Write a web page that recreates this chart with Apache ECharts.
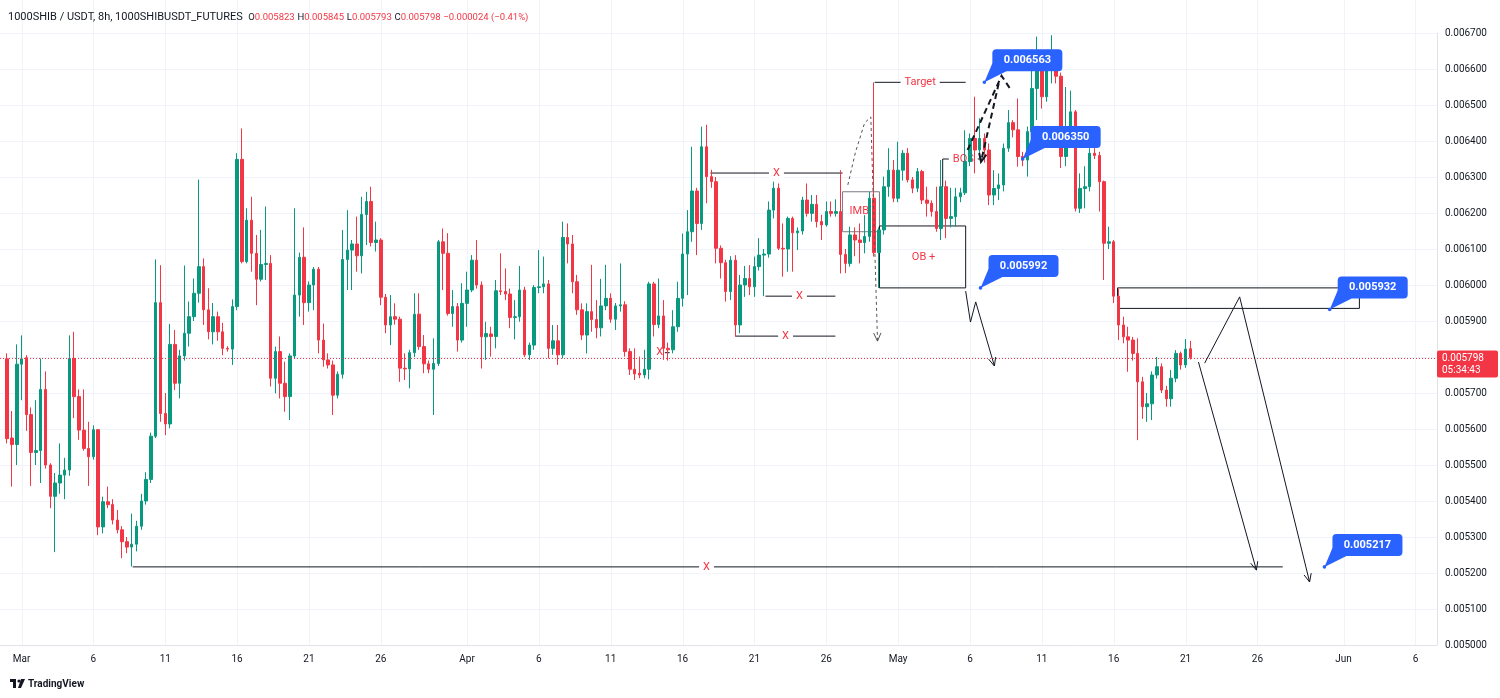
<!DOCTYPE html>
<html>
<head>
<meta charset="utf-8">
<title>1000SHIB / USDT, 8h</title>
<script src="https://cdn.jsdelivr.net/npm/echarts@6/dist/echarts.min.js"></script>
<style>
  html, body { margin: 0; padding: 0; background: #fff; }
  #chart { width: 1500px; height: 698px; }
</style>
</head>
<body>
<div id="chart"></div>
<script>
// prices below are in units of 0.000001 (1e-6)
var SCALE = 1e6;
var LEAD = 1;      // empty 8h slots before the first candle
var SLOTS = 300;   // 8h slots on the time axis (future included)
var startTime = Date.UTC(2025, 1, 27, 16);

var opens = [
  5795,5575,5557,5780,5798,5640,5535,5540,5710,5500, 5413,5450,5472,5486,5796,5690,5597,5546,5523,5598,
  5328,5398,5390,5347,5320,5287,5272,5280,5330,5400, 5460,5580,5951,5643,5614,5835,5727,5803,5866,5912,
  5977,6051,5931,5870,5912,5870,5824,5822,5940,6349, 6065,6180,6088,6016,6057,6060,5741,5815,5727,5690,
  5803,5972,6077,5951,6000,6044,5847,5792,5778,5694, 5752,6071,6097,6114,6081,6196,6232,6118,6125,5966,
  5889,5912,5905,5769,5767,5812,5919,5829,5781,5766, 5782,6120,6088,5921,5940,5847,5949,5986,6069,6000,
  5856,5864,5857,5984,5982,5975,5910,5912,5986,5806, 5833,5993,5995,6003,5824,5845,5806,6132,6114,6009,
  5931,5861,5926,5904,5881,5942,5963,5905,5942,5945, 5815,5766,5755,5750,5766,6003,5890,5914,5824,5820,
  5884,5963,6086,6148,6261,6171,6384,6301,6287,6102, 6062,5982,6069,5889,6000,6018,5995,6051,6083,6086,
  6208,6269,6102,6100,6185,6145,6150,6236,6199,6224, 6176,6167,6204,6199,6204,6085,6060,6139,6125,6118,
  6135,6241,6090,6153,6273,6319,6241,6319,6366,6292, 6269,6315,6236,6227,6204,6157,6273,6185,6190,6245,
  6256,6343,6407,6375,6407,6375,6250,6268,6278,6380, 6451,6431,6357,6347,6426,6546,6602,6523,6597,6620,
  6580,6357,6435,6481,6213,6268,6273,6366,6360,6287, 6116,6120,5969,5889,5856,5847,5810,5731,5662,5670,
  5750,5773,5708,5684,5741,5810,5778,5823
];
var highs = [
  5810,5650,5835,5860,5805,5660,5680,5796,5760,5505, 5478,5560,5520,5860,5870,5710,5710,5620,5610,5600,
  5412,5440,5405,5375,5330,5300,5365,5345,5420,5480, 5590,6071,6055,5700,5892,5875,5820,6054,5954,6018,
  6293,6074,5991,5950,5926,5895,5830,5960,6366,6435, 6213,6245,6139,6153,6218,6083,5829,5857,5787,5810,
  6213,6090,6160,6010,6050,6050,5893,5810,5790,5760, 6153,6208,6125,6190,6245,6259,6273,6176,6130,5975,
  5972,5949,5912,5810,5820,5977,5977,5861,5790,5852, 6125,6157,6144,5986,5950,6005,6037,6083,6125,6010,
  5898,5884,6014,6088,6046,5990,5958,6053,5995,5840, 6000,6097,6079,6014,5889,5889,6176,6171,6139,6028,
  5949,5949,6056,5958,6017,6056,5977,5950,6060,5955, 5824,5824,5801,5820,6009,6009,6018,5958,5840,5930,
  6009,6143,6208,6384,6270,6440,6445,6320,6300,6110, 6070,6080,6083,6028,6053,6055,6079,6130,6100,6232,
  6287,6282,6171,6190,6190,6160,6245,6282,6250,6250, 6195,6232,6232,6238,6319,6100,6162,6160,6171,6194,
  6259,6563,6160,6301,6380,6347,6398,6375,6380,6300, 6325,6320,6273,6235,6273,6347,6290,6270,6270,6270,
  6430,6421,6523,6463,6421,6393,6319,6310,6393,6486, 6458,6518,6370,6440,6597,6690,6620,6610,6694,6630,
  6590,6550,6540,6486,6310,6330,6380,6380,6370,6290, 6162,6125,5990,5912,5884,5856,5852,5745,5700,5760,
  5800,5782,5720,5764,5819,5815,5850,5845
];
var lows = [
  5560,5440,5500,5680,5595,5442,5500,5450,5490,5380, 5258,5420,5405,5470,5630,5570,5540,5442,5515,5305,
  5310,5380,5335,5310,5241,5255,5218,5260,5320,5390, 5450,5575,5620,5583,5602,5708,5685,5790,5829,5900,
  5951,5889,5849,5835,5845,5805,5815,5778,5930,6060, 6060,6037,5944,6010,6014,5718,5699,5685,5648,5625,
  5795,5912,5889,5926,5930,5810,5773,5768,5639,5685, 5740,5986,5986,6037,6032,6111,6107,6093,5944,5866,
  5833,5890,5731,5736,5713,5800,5820,5755,5755,5639, 5775,5986,5915,5884,5815,5840,5884,5980,5990,5768,
  5792,5801,5824,5972,5958,5880,5849,5898,5800,5792, 5820,5977,5977,5796,5806,5778,5796,6060,5977,5917,
  5847,5810,5870,5852,5857,5930,5895,5875,5926,5801, 5750,5736,5741,5741,5738,5857,5880,5792,5790,5810,
  5870,5940,5972,6120,6083,6153,6227,6270,6060,6018, 5954,5958,5856,5866,5967,5972,5967,6040,5969,6076,
  6185,6097,6023,6037,6037,6097,6140,6190,6176,6160, 6125,6162,6190,6190,6032,6033,6051,6080,6060,6088,
  6120,6079,5992,6140,6245,6230,6230,6290,6285,6255, 6258,6225,6190,6190,6148,6125,6130,6160,6162,6230,
  6250,6330,6310,6360,6340,6222,6222,6236,6260,6370, 6410,6329,6330,6301,6400,6458,6490,6509,6560,6560,
  6325,6330,6420,6204,6200,6213,6260,6350,6204,6014, 6100,5950,5847,5838,5759,5790,5569,5628,5620,5625,
  5740,5700,5662,5662,5730,5765,5770,5793
];
var closes = [
  5573,5557,5780,5795,5640,5535,5540,5710,5500,5413, 5450,5472,5486,5796,5690,5597,5546,5523,5598,5328,
  5398,5390,5347,5320,5287,5272,5280,5330,5400,5460, 5580,5951,5643,5614,5835,5727,5803,5866,5912,5977,
  6051,5931,5870,5912,5870,5824,5822,5940,6349,6065, 6180,6088,6016,6057,6060,5741,5815,5727,5690,5803,
  5972,6077,5951,6000,6044,5847,5792,5778,5694,5752, 6071,6097,6114,6081,6196,6232,6118,6125,5966,5889,
  5912,5905,5769,5767,5812,5919,5829,5781,5766,5782, 6120,6088,5921,5940,5847,5949,5986,6069,6000,5856,
  5865,5857,5984,5982,5975,5910,5912,5986,5806,5833, 5993,5995,6003,5824,5845,5806,6132,6114,6009,5931,
  5861,5926,5904,5881,5942,5963,5905,5942,5945,5815, 5766,5753,5750,5766,6003,5890,5914,5824,5820,5884,
  5963,6086,6148,6261,6171,6384,6301,6287,6102,6062, 5982,6069,5889,6000,6018,5995,6051,6083,6086,6208,
  6269,6102,6100,6185,6145,6150,6236,6199,6224,6176, 6167,6204,6199,6204,6085,6060,6139,6125,6118,6135,
  6241,6090,6153,6273,6319,6241,6319,6366,6292,6269, 6315,6236,6227,6204,6157,6273,6185,6190,6245,6256,
  6343,6407,6375,6407,6375,6250,6268,6278,6380,6451, 6431,6357,6347,6426,6546,6602,6523,6597,6620,6580,
  6357,6435,6481,6213,6268,6273,6366,6360,6287,6116, 6120,5969,5889,5856,5847,5810,5731,5662,5670,5750,
  5773,5708,5684,5741,5810,5778,5822,5798
];

var yMin = 5000, yMax = 6700, yStep = 100;
var labelDays = [1, 6, 11, 16, 21, 26];
var monthNames = ['Jan','Feb','Mar','Apr','May','Jun','Jul','Aug','Sep','Oct','Nov','Dec'];

// drawings, positioned by bar index (same index as the arrays above) and price
var levelLines = [ // [fromBar, toBar, price, labelBar, label]
  [26.2, 266.3, 5217, 146.0, 'X'],
  [146.8, 174.4, 6311, 160.6, 'X'],
  [158.3, 172.9, 5969, 165.4, 'X'],
  [152.1, 172.9, 5858, 162.5, 'X'],
  [181.1, 200.1, 6563, 190.6, 'Target']
];
var boxes = [ // [fromBar, toBar, topPrice, bottomPrice, colour]
  [174.4, 182.1, 6259, 6148, '#787b86'],
  [182.1, 200.1, 6164, 5992, '#131722'],
  [231.8, 282.3, 5992, 5935, '#131722']
];
var boxTexts = [[177.9, 6204, 'IMB'], [191.3, 6078, 'OB +'], [136.2, 5812, 'X']];
var bosPath = [[195.3, 6272], [195.3, 6350], [203.5, 6350]];
var bosText = [199.6, 6350, 'BOS'];
var tinyLine = [137.3, 138.3, 5812];
var callouts = [[204.0, 6563], [212.0, 6350], [203.2, 5992], [276.1, 5932], [275.0, 5217]];
var arrowPaths = [
  [[200.1, 5983], [201.1, 5897], [202.2, 5953], [206.1, 5775]],
  [[250.0, 5783], [257.3, 5967], [271.9, 5175]],
  [[248.7, 5786], [260.8, 5208]]
];
var greyDashed = [[175.5, 6278], [177.1, 6369], [179.0, 6450], [180.3, 6467], [181.7, 5844]];
var blackDashed = [[200.5, 6375], [207.6, 6581], [209.3, 6547]];
var blackDashedArrow = [[207.0, 6560], [203.3, 6342]];

var UP = '#089981', DOWN = '#f23645', INK = '#131722';
var FONT = 'Roboto, "Noto Sans", sans-serif';

var slotKeys = [];
for (var k = 0; k < SLOTS; k++) slotKeys.push(String(startTime + k * 8 * 3600 * 1000));

function isLabelSlot(value) {
  var d = new Date(+value);
  return d.getUTCHours() === 0 && labelDays.indexOf(d.getUTCDate()) >= 0;
}

var candleData = [];
for (var i = 0; i < LEAD; i++) candleData.push(['-', '-', '-', '-']);
for (var i = 0; i < opens.length; i++) {
  candleData.push([opens[i] / SCALE, closes[i] / SCALE, lows[i] / SCALE, highs[i] / SCALE]);
}

function fmt(v) { return (v / SCALE).toFixed(6); }
var last = opens.length - 1;
var chg = closes[last] - closes[last - 1];
var pct = (chg / closes[last - 1] * 100).toFixed(2);
var sign = chg < 0 ? '\u2212' : '+';
var headerText = '{t|1000SHIB / USDT, 8h, 1000SHIBUSDT_FUTURES}  ' +
  '{k|O}{v|' + fmt(opens[last]) + '} {k|H}{v|' + fmt(highs[last]) + '} ' +
  '{k|L}{v|' + fmt(lows[last]) + '} {k|C}{v|' + fmt(closes[last]) + '} ' +
  '{v|' + sign + fmt(Math.abs(chg)) + ' (' + sign + Math.abs(pct).toFixed(2) + '%)}';

function mapper(api) {
  var a = api.coord([0, yMin / SCALE]);
  var b = api.coord([1, yMin / SCALE]);
  var step = b[0] - a[0];
  var f = function (bar, price) {
    return [a[0] + (bar + LEAD) * step, api.coord([0, price / SCALE])[1]];
  };
  f.slotX = function (slot) { return a[0] + slot * step; };
  return f;
}

function line(p1, p2, color, width, dash) {
  return { type: 'line', shape: { x1: p1[0], y1: p1[1], x2: p2[0], y2: p2[1] },
    style: { stroke: color, lineWidth: width || 1, lineDash: dash || null } };
}
function poly(points, color, width, dash) {
  return { type: 'polyline', shape: { points: points },
    style: { stroke: color, lineWidth: width || 1, fill: null, lineDash: dash || null } };
}
function head(p1, p2, color, width) {
  var ang = Math.atan2(p2[1] - p1[1], p2[0] - p1[0]);
  var len = 9, spread = 0.42;
  return poly([
    [p2[0] - len * Math.cos(ang - spread), p2[1] - len * Math.sin(ang - spread)],
    p2,
    [p2[0] - len * Math.cos(ang + spread), p2[1] - len * Math.sin(ang + spread)]
  ], color, width);
}
function label(p, text, color, bg) {
  return { type: 'text', x: p[0], y: p[1],
    style: { text: text, fill: color, font: '11px ' + FONT, align: 'center', verticalAlign: 'middle',
      backgroundColor: bg || null, padding: bg ? [1, 4] : 0 } };
}

function renderBelow(params, api) {
  if (params.dataIndex !== 0) return;
  var cs = params.coordSys;
  var P = mapper(api);
  var kids = [];
  for (var s = 0; s < slotKeys.length; s++) {
    if (!isLabelSlot(slotKeys[s])) continue;
    var x = Math.round(P.slotX(s)) + 0.5;
    kids.push(line([x, 0], [x, cs.y + cs.height], '#f0f3fa', 1));
  }
  boxes.forEach(function (b) {
    var p1 = P(b[0], b[2]), p2 = P(b[1], b[3]);
    kids.push({ type: 'rect', shape: { x: p1[0], y: p1[1], width: p2[0] - p1[0], height: p2[1] - p1[1] },
      style: { stroke: b[4], fill: null, lineWidth: 1 } });
  });
  kids.push(poly(bosPath.map(function (q) { return P(q[0], q[1]); }), INK, 1));
  kids.push(label(P(bosText[0], bosText[1]), bosText[2], DOWN, '#fff'));
  levelLines.forEach(function (l) {
    kids.push(line(P(l[0], l[2]), P(l[1], l[2]), INK, 1));
    kids.push(label(P(l[3], l[2]), l[4], DOWN, '#fff'));
  });
  kids.push(line(P(tinyLine[0], tinyLine[2]), P(tinyLine[1], tinyLine[2]), INK, 1));
  boxTexts.forEach(function (t) { kids.push(label(P(t[0], t[1]), t[2], DOWN)); });
  return { type: 'group', children: kids };
}

function renderAbove(params, api) {
  if (params.dataIndex !== 0) return;
  var cs = params.coordSys;
  var P = mapper(api);
  var kids = [];
  // current price line and its scale label
  var py = Math.round(P(0, closes[last])[1]) + 0.5;
  kids.push(line([cs.x, py], [cs.x + cs.width, py], DOWN, 1, [1, 2]));
  kids.push({ type: 'rect', shape: { x: cs.x + cs.width, y: py - 8, width: 61, height: 27, r: 2 },
    style: { fill: DOWN } });
  kids.push({ type: 'text', x: cs.x + cs.width + 5, y: py,
    style: { text: fmt(closes[last]), fill: '#fff', font: '10px ' + FONT, verticalAlign: 'middle' } });
  kids.push({ type: 'text', x: cs.x + cs.width + 5, y: py + 12,
    style: { text: '05:34:43', fill: '#fff', font: '10px ' + FONT, verticalAlign: 'middle' } });

  // dashed sketches
  var g = greyDashed.map(function (q) { return P(q[0], q[1]); });
  kids.push(poly(g, '#555', 1, [3, 3]));
  kids.push(head(g[g.length - 2], g[g.length - 1], '#555', 1));
  kids.push(poly(blackDashed.map(function (q) { return P(q[0], q[1]); }), INK, 2, [6, 4]));
  var bd = blackDashedArrow.map(function (q) { return P(q[0], q[1]); });
  kids.push(poly(bd, INK, 2, [6, 4]));
  kids.push(head(bd[0], bd[1], INK, 2));

  // arrows
  arrowPaths.forEach(function (path) {
    var pts = path.map(function (q) { return P(q[0], q[1]); });
    kids.push(poly(pts, INK, 1));
    kids.push(head(pts[pts.length - 2], pts[pts.length - 1], INK, 1));
  });

  // price callouts
  callouts.forEach(function (c) {
    var p = P(c[0], c[1]);
    var bx = p[0] + 8, by = p[1] - 33;
    kids.push({ type: 'polygon', shape: { points: [[p[0], p[1]], [bx, by + 14], [bx + 14, by + 22]] },
      style: { fill: '#2962ff' } });
    kids.push({ type: 'rect', shape: { x: bx, y: by, width: 70, height: 22, r: 4 }, style: { fill: '#2962ff' } });
    kids.push({ type: 'circle', shape: { cx: p[0], cy: p[1], r: 1.8 }, style: { fill: '#2962ff' } });
    kids.push({ type: 'text', x: bx + 35, y: by + 11,
      style: { text: fmt(c[1]), fill: '#fff', font: 'bold 11px ' + FONT, align: 'center', verticalAlign: 'middle' } });
  });
  return { type: 'group', children: kids };
}

var chart = echarts.init(document.getElementById('chart'));
chart.setOption({
  animation: false,
  backgroundColor: '#ffffff',
  grid: { left: 0, right: 63, top: 33, bottom: 53 },
  xAxis: {
    type: 'category',
    data: slotKeys,
    boundaryGap: true,
    axisLine: { show: true, lineStyle: { color: '#e0e3eb' } },
    axisTick: { show: false },
    splitLine: { show: false },
    axisLabel: {
      interval: function (index, value) { return isLabelSlot(value); },
      formatter: function (value) {
        var d = new Date(+value);
        return d.getUTCDate() === 1 ? monthNames[d.getUTCMonth()] : String(d.getUTCDate());
      },
      color: INK, fontSize: 10, fontFamily: FONT, margin: 9
    }
  },
  yAxis: {
    type: 'value',
    position: 'right',
    min: yMin / SCALE, max: yMax / SCALE, interval: yStep / SCALE,
    axisLine: { show: true, lineStyle: { color: '#e0e3eb' } },
    axisTick: { show: false },
    splitLine: { show: true, lineStyle: { color: '#f0f3fa' } },
    axisLabel: {
      color: INK, fontSize: 10, fontFamily: FONT, margin: 8,
      formatter: function (v) { return v.toFixed(6); }
    }
  },
  graphic: [
    { type: 'text', left: 8, top: 12, z: 100,
      style: { text: headerText, font: '11px ' + FONT,
        rich: { t: { fill: INK, fontSize: 11, fontFamily: FONT }, k: { fill: INK, fontSize: 9.5, fontFamily: FONT },
          v: { fill: DOWN, fontSize: 9.5, fontFamily: FONT } } } },
    { type: 'group', left: 10, top: 679, z: 100, children: [
      { type: 'rect', shape: { x: 0, y: 0, width: 6, height: 3 }, style: { fill: INK } },
      { type: 'rect', shape: { x: 3, y: 0, width: 3, height: 9 }, style: { fill: INK } },
      { type: 'circle', shape: { cx: 9, cy: 2, r: 1.6 }, style: { fill: INK } },
      { type: 'polygon', shape: { points: [[11, 0], [15, 0], [11, 9], [8, 9]] }, style: { fill: INK } },
      { type: 'text', x: 18, y: 0, style: { text: 'TradingView', font: 'bold 10px ' + FONT, fill: INK } }
    ] }
  ],
  series: [
    { type: 'custom', name: 'drawings', z: 1, silent: true, data: [[0, yMin / SCALE]], renderItem: renderBelow },
    {
      type: 'candlestick',
      name: '1000SHIBUSDT',
      z: 3,
      barWidth: 3,
      data: candleData,
      itemStyle: { color: UP, color0: DOWN, borderColor: UP, borderColor0: DOWN, borderWidth: 1 }
    },
    { type: 'custom', name: 'overlay', z: 10, silent: true, data: [[0, yMin / SCALE]], renderItem: renderAbove }
  ]
});
</script>
</body>
</html>
